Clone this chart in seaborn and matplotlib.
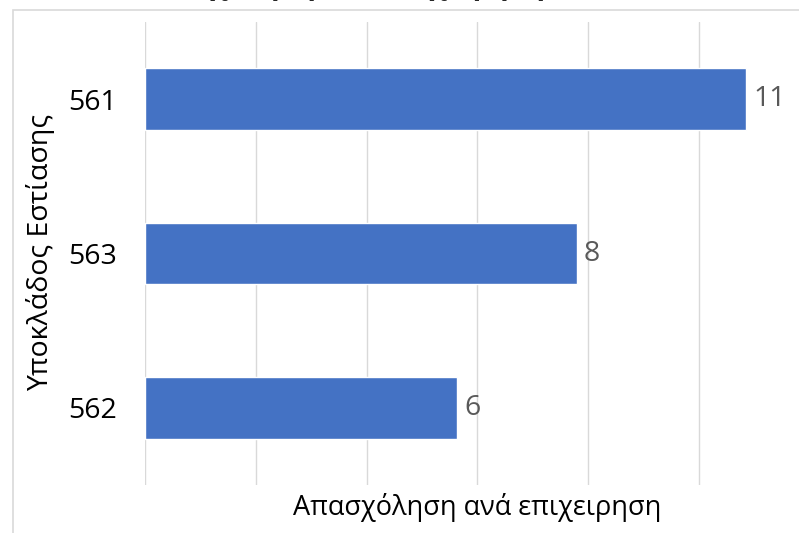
import matplotlib
matplotlib.use("Agg")
import matplotlib.pyplot as plt
import seaborn as sns
import pandas as pd
from matplotlib.patches import Rectangle

categories = ["561", "563", "562"]
values = [10.85, 7.79, 5.63]
labels = ["11", "8", "6"]
title = "Απασχόληση ανά επιχείρηση ανά υποκλάδο"
xlabel = "Απασχόληση ανά επιχειρηση"
ylabel = "Υποκλάδος Εστίασης"

sns.set_theme(style="white")
plt.rcParams['font.family'] = ['Open Sans', 'DejaVu Sans']

df = pd.DataFrame({"cat": categories, "val": values})

fig = plt.figure(figsize=(7.99, 5.33), dpi=100)
W, H = 799, 533
ax = fig.add_axes([145 / W, 48 / H, 665 / W, 463 / H])

sns.barplot(data=df, y="cat", x="val", order=categories, color="#4472C4",
            width=0.4, orient="h", ax=ax, saturation=1, zorder=3)

ax.set_xlim(0, 12)
ax.set_xticks(range(0, 13, 2))
ax.set_xticklabels([])
ax.grid(axis="x", color="#D9D9D9", linewidth=1)
ax.grid(axis="y", visible=False)
for s in ax.spines.values():
    s.set_visible(False)
ax.tick_params(axis="both", length=0)
ax.tick_params(axis="y", labelsize=20.5, labelcolor="#000000", pad=20)
ax.set_xlabel("")
ax.set_ylabel("")

for p, lab in zip(ax.patches, labels):
    ax.text(p.get_width() + 0.13, p.get_y() + p.get_height() / 2, lab,
            va="center", ha="left", fontsize=20.5, color="#595959")

fig.text(477 / W, 1 - 507 / H, xlabel, ha="center", va="center",
         fontsize=19.5, color="#000000")
fig.text(41 / W, 1 - 252 / H, ylabel, ha="center", va="center", rotation=90,
         fontsize=20.5, color="#000000")

fig.text(445 / W, 1 + 6 / H, title, ha="center", va="baseline",
         fontsize=20, fontweight="bold")

fig.patches.append(Rectangle((13 / W, -0.5), 1.5, 1.5 - 10 / H,
                             transform=fig.transFigure, fill=False,
                             edgecolor="#D9D9D9", linewidth=1.2))

fig.savefig("out.png", dpi=100)
